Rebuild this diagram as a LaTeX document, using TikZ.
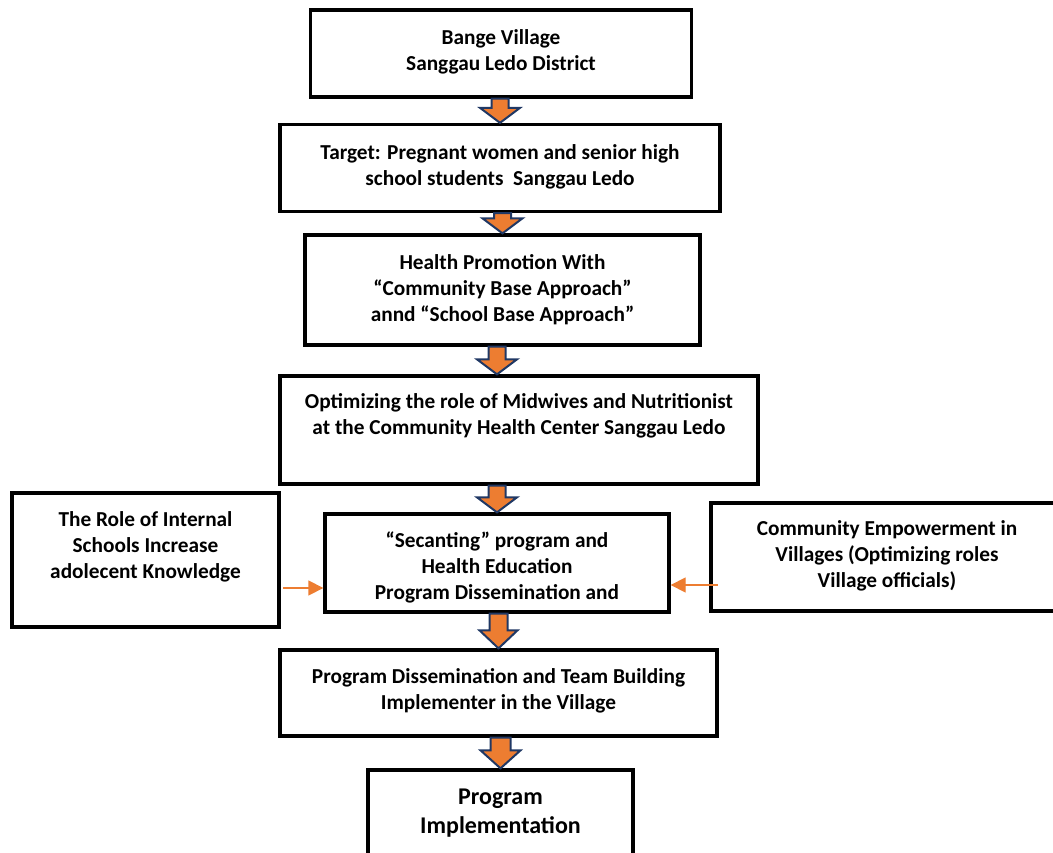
\documentclass[tikz,border=0pt]{standalone}
\usepackage{fontspec}
\setmainfont{Carlito}
\usetikzlibrary{calc,arrows.meta}

\definecolor{arroworange}{HTML}{ED7D31}
\definecolor{arrowblue}{HTML}{203864}

% block arrow: from, to, shaft half width, head half width, head length
\newcommand{\blockarrow}[5]{
  \draw[barrow] ($(#1 -| #2)+(-#3,0)$) -- ($(#2)+(-#3,-#5)$) -- ($(#2)+(-#4,-#5)$)
    -- (#2) -- ($(#2)+(#4,-#5)$) -- ($(#2)+(#3,-#5)$) -- ($(#1 -| #2)+(#3,0)$) -- cycle;
}

\begin{document}
\begin{tikzpicture}[x=1pt, y=-1pt]
        \tikzstyle{box}=[draw, line width=3.3pt, rectangle, inner sep=0pt]
        \tikzstyle{txt}=[align=center, font=\bfseries\fontsize{21.3}{26}\selectfont]
        \tikzstyle{barrow}=[fill=arroworange, draw=arrowblue, line width=2pt, line join=miter]
        \tikzstyle{sidearrow}=[draw=arroworange, line width=1.3pt, -{Triangle[length=15pt, width=15pt]}]

        \clip (0,0) rectangle (1053,853);
        \useasboundingbox (0,0) rectangle (1053,853);

% main column
        \node[box, minimum width=381, minimum height=87] (b1) at (501,53.5) {};
        \node[txt] (t1) at (501,52) {Bange Village\\Sanggau Ledo District};

        \node[box, minimum width=440, minimum height=87] (b2) at (500,168) {};
        \node[txt] (t2) at (500,167) {Target: Pregnant women and senior high\\school students\ \ Sanggau Ledo};

        \node[box, minimum width=395, minimum height=110] (b3) at (502.5,290) {};
        \node[txt] (t3) at (502.5,290) {Health Promotion With\\``Community Base Approach''\\annd ``School Base Approach''};

        \node[box, minimum width=478, minimum height=108] (b4) at (519,430) {};
        \node[txt] (t4) at (519,416) {Optimizing the role of Midwives and Nutritionist\\at the Community Health Center Sanggau Ledo};

        \node[box, minimum width=344, minimum height=98] (b5) at (497,563) {};
        \node[txt] (t5) at (497,567) {``Secanting'' program and\\Health Education\\Program Dissemination and};

        \node[box, minimum width=437, minimum height=86] (b6) at (498.5,693) {};
        \node[txt] (t6) at (498.5,691) {Program Dissemination and Team Building\\Implementer in the Village};

        \node[box, minimum width=265, minimum height=115] (b7) at (500.5,827.5) {};
        \node[txt, font=\bfseries\fontsize{24}{29}\selectfont] (t7) at (500.5,813) {Program\\Implementation};

% side boxes
        \node[box, minimum width=267, minimum height=134] (lb) at (145.5,560) {};
        \node[txt] (lt) at (145.5,547) {The Role of Internal\\Schools Increase\\adolecent Knowledge};

        \node[box, minimum width=352, minimum height=108] (rb) at (887,557) {};
        \node[txt] (rt) at (887,556) {Community Empowerment in\\Villages (Optimizing roles\\Village officials)};

% arrows
        \blockarrow{b1.south}{b2.north}{8.5}{20}{15}
        \blockarrow{b2.south}{b3.north}{8.5}{20}{15}
        \blockarrow{b3.south}{b4.north -| b5.north}{8.5}{20}{15}
        \blockarrow{b4.south}{b5.north}{8.5}{20}{15}
        \blockarrow{b5.south}{b6.north}{9}{19}{18}
        \blockarrow{b6.south}{b7.north}{10}{20}{18}

        \coordinate (la) at (283,588);
        \coordinate (ra) at (718,585);
        \draw[sidearrow] (la) -- (la -| b5.west);
        \draw[sidearrow] (ra) -- (ra -| b5.east);

    \end{tikzpicture}
\end{document}
